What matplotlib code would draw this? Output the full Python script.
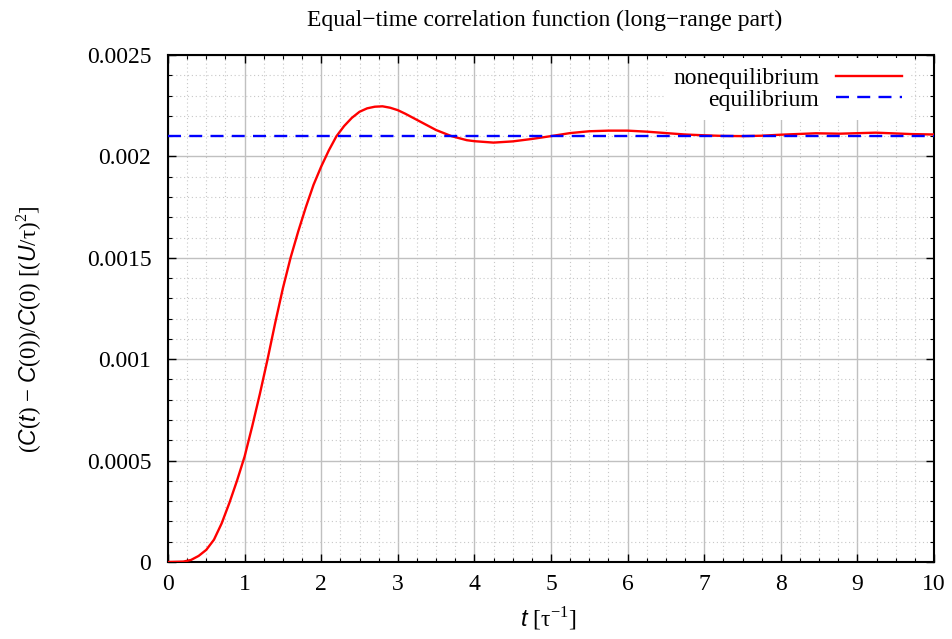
import matplotlib
matplotlib.use("Agg")
import matplotlib.pyplot as plt
from matplotlib.ticker import MultipleLocator, FuncFormatter

t_vals = [0.0, 0.2, 0.3, 0.4, 0.5, 0.6, 0.7, 0.8, 0.9, 1.0, 1.1, 1.2, 1.3, 1.4,
          1.5, 1.6, 1.7, 1.8, 1.9, 2.0, 2.1, 2.2, 2.3, 2.4, 2.5, 2.6, 2.7, 2.8,
          2.9, 3.0, 3.1, 3.2, 3.3, 3.4, 3.5, 3.6, 3.7, 3.8, 3.9, 4.0, 4.25, 4.5,
          4.75, 5.0, 5.25, 5.5, 5.75, 6.0, 6.25, 6.5, 6.75, 7.0, 7.25, 7.5,
          7.75, 8.0, 8.46, 8.77, 9.24, 9.71, 10.0]
noneq_vals = [0.0, 0.000002, 0.00001, 0.00003, 0.00006, 0.00011, 0.00019,
              0.00029, 0.0004, 0.00052, 0.00067, 0.00083, 0.001, 0.00118,
              0.00135, 0.0015, 0.00163, 0.00175, 0.00186, 0.00195, 0.00203,
              0.0021, 0.00215, 0.00219, 0.00222, 0.002237, 0.002245, 0.002247,
              0.00224, 0.002228, 0.00221, 0.00219, 0.00217, 0.00215, 0.00213,
              0.002115, 0.0021, 0.00209, 0.00208, 0.002075, 0.002068, 0.002074,
              0.002086, 0.0021, 0.002115, 0.002124, 0.002127, 0.002127,
              0.002122, 0.002115, 0.002108, 0.002104, 0.002101, 0.0021,
              0.002102, 0.002107, 0.002114, 0.002112, 0.002117, 0.00211,
              0.002108]
eq_level = 0.0021
eq_t = [0.0, 10.0]

series_labels = ["nonequilibrium", "equilibrium"]

plt.rcParams['font.family'] = ['Liberation Serif', 'DejaVu Serif']
plt.rcParams['mathtext.fontset'] = 'custom'
plt.rcParams['mathtext.rm'] = 'Liberation Serif'
plt.rcParams['mathtext.it'] = 'Liberation Sans:italic'
FS = 17

fig = plt.figure(figsize=(9.52, 6.39), dpi=100)
ax = fig.add_axes([168 / 952, 1 - 562 / 639, (934 - 168) / 952, (562 - 55) / 639])

ax.plot(t_vals, noneq_vals, color='#ff0000', lw=1.7, label=series_labels[0], zorder=3)
ax.plot(eq_t, [eq_level, eq_level], color='#0000ff', lw=1.7, dashes=(5.5, 3.5),
        label=series_labels[1], zorder=3)

ax.set_xlim(0, 10)
ax.set_ylim(0, 0.0025)
ax.xaxis.set_major_locator(MultipleLocator(1))
ax.xaxis.set_minor_locator(MultipleLocator(0.25))
ax.yaxis.set_major_locator(MultipleLocator(0.0005))
ax.yaxis.set_minor_locator(MultipleLocator(0.0001))
ax.yaxis.set_major_formatter(FuncFormatter(lambda v, p: '%g' % round(v, 6)))

ax.grid(which='major', color='#c0c0c0', lw=1.0, ls='-', zorder=0)
ax.grid(which='minor', color='#c8c8c8', lw=0.8, ls=(0, (1, 2.5)), zorder=0)
ax.set_axisbelow(True)

ax.tick_params(which='both', direction='in', top=True, right=True, labelsize=FS)
ax.tick_params(which='major', length=6, width=1.0)
ax.tick_params(which='minor', length=3, width=0.8)
ax.tick_params(axis='y', pad=12)
ax.tick_params(axis='x', pad=9)
for s in ax.spines.values():
    s.set_linewidth(1.5)

ax.set_xlabel(r'$t$ [τ$^{-1}$]', fontsize=FS)
ax.xaxis.set_label_coords(0.497, -0.083)
ax.set_ylabel(r'($C$($t$) − $C$(0))/$C$(0) [($U$/τ)$^2$]', fontsize=FS - 0.5)
ax.yaxis.set_label_coords(-0.162, 0.46)

fig.text(545 / 952, 1 - 20 / 639, 'Equal−time correlation function (long−range part)',
         ha='center', va='center', fontsize=FS)

# markerfirst=False already right-aligns the rows, like gnuplot's key
leg = ax.legend(loc='upper right', bbox_to_anchor=(0.9705, 0.994), borderaxespad=0,
                markerfirst=False, frameon=True, fancybox=False, framealpha=1,
                facecolor='white', edgecolor='none', fontsize=FS,
                handlelength=2.8, handletextpad=0.7, labelspacing=0.0,
                borderpad=0.4)
leg.set_zorder(4)

fig.savefig('out.png', dpi=100)
